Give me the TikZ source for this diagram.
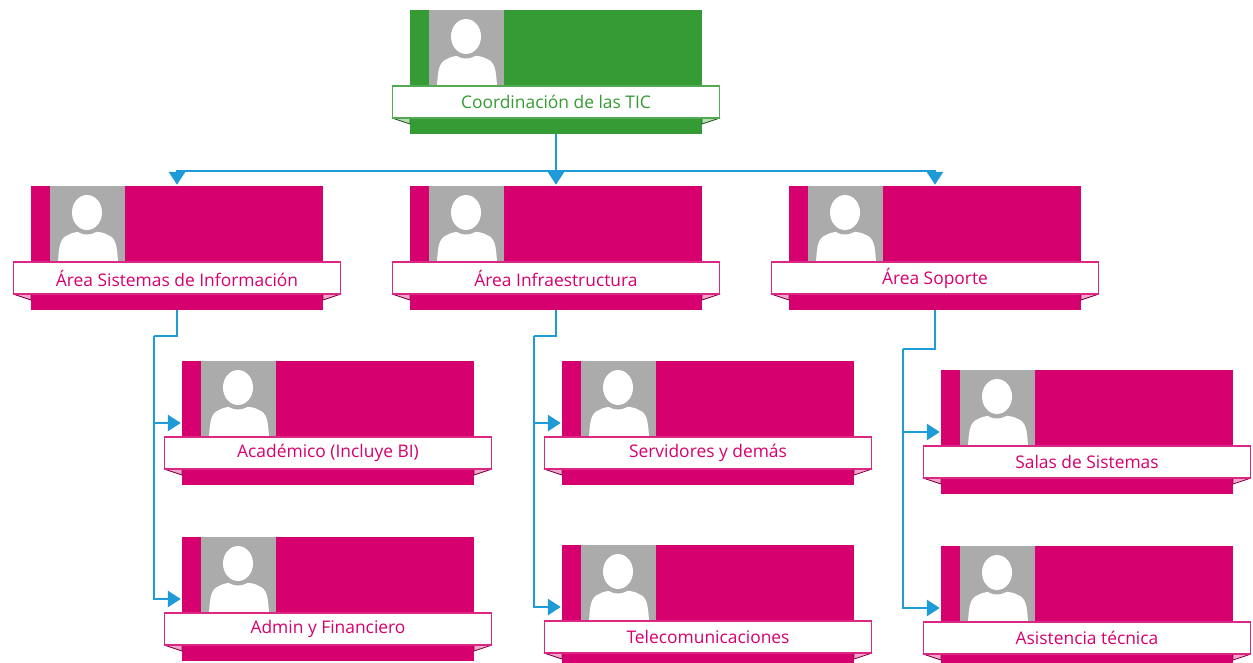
\documentclass[tikz,border=0pt]{standalone}
\usepackage{fontspec}
\setmainfont{Open Sans}
\usetikzlibrary{arrows.meta}
\definecolor{cgreen}{HTML}{359B35}
\definecolor{cpink}{HTML}{D6006E}
\definecolor{cblue}{HTML}{1F9BD8}
\definecolor{cgrey}{HTML}{ABABAB}
\tikzset{
  cardbox/.style={fill=#1,draw=none,inner sep=0pt,minimum width=292pt,minimum height=124pt},
  photobox/.style={fill=cgrey,draw=none},
  bannerbox/.style={fill=white,draw=#1!85!white,line width=1.2pt,inner sep=0pt,minimum width=327pt,minimum height=32pt,text=#1,font=\fontsize{17.4}{20}\selectfont},
  foldmark/.style={fill=#1!35,draw=#1!60!black,line width=0.8pt,line join=round},
  link/.style={draw=cblue,line width=2.8pt},
  linkarrow/.style={link,-{Triangle[length=13pt,width=16pt]},shorten >=1pt},
}
% #1 name, #2 x, #3 y, #4 colour, #5 text
\newcommand{\orgcard}[5]{%
  \node[cardbox=#4] (#1) at (#2+146,#3+62) {};
  \fill[photobox] (#2+19,#3) rectangle (#2+94,#3+76);
  \begin{scope}
    \clip (#2+19,#3) rectangle (#2+94,#3+76);
    \fill[white] (#2+27,#3+76) .. controls (#2+28,#3+60) and (#2+29,#3+52) .. (#2+37,#3+49)
      .. controls (#2+44,#3+44) and (#2+70,#3+44) .. (#2+77,#3+49)
      .. controls (#2+85,#3+52) and (#2+86,#3+60) .. (#2+87,#3+76) -- cycle;
    \fill[cgrey] (#2+56,#3+27) ellipse [x radius=19pt,y radius=21.5pt];
    \fill[white] (#2+56,#3+26.5) ellipse [x radius=15pt,y radius=17.5pt];
  \end{scope}
  \path[foldmark=#4] (#2-18,#3+108) -- (#2,#3+114) -- (#2,#3+108) -- cycle;
  \path[foldmark=#4] (#2+310,#3+108) -- (#2+292,#3+114) -- (#2+292,#3+108) -- cycle;
  \node[bannerbox=#4] (#1b) at (#2+146,#3+92) {#5};
}
\begin{document}
\begin{tikzpicture}[x=1pt,y=-1pt]
\useasboundingbox (0,0) rectangle (1253,663);
\clip (0,0) rectangle (1253,663);
\fill[white] (0,0) rectangle (1253,663);
\orgcard{root}{410}{10}{cgreen}{Coordinación de las TIC}
\orgcard{sis}{31}{186}{cpink}{Área Sistemas de Información}
\orgcard{inf}{410}{186}{cpink}{Área Infraestructura}
\orgcard{sop}{789}{186}{cpink}{Área Soporte}
\orgcard{aca}{182}{361}{cpink}{Académico (Incluye BI)}
\orgcard{adm}{182}{537}{cpink}{Admin y Financiero}
\orgcard{ser}{562}{361}{cpink}{Servidores y demás}
\orgcard{tel}{562}{545}{cpink}{Telecomunicaciones}
\orgcard{sal}{941}{370}{cpink}{Salas de Sistemas}
\orgcard{asi}{941}{546}{cpink}{Asistencia técnica}
% top bus
\coordinate (bus) at (root.south |- 0,171);
\draw[link] (root.south) -- (bus);
\draw[linkarrow] (bus) -| (sis.north);
\draw[linkarrow] (bus) -- (inf.north);
\draw[linkarrow] (bus) -| (sop.north);
% branches
\coordinate (j1) at (154,336);
\draw[link] (sis.south) |- (j1);
\draw[linkarrow] (j1) |- (aca.west);
\draw[linkarrow] (j1) |- (adm.west);
\coordinate (j2) at (534,336);
\draw[link] (inf.south) |- (j2);
\draw[linkarrow] (j2) |- (ser.west);
\draw[linkarrow] (j2) |- (tel.west);
\coordinate (j3) at (903,349);
\draw[link] (sop.south) |- (j3);
\draw[linkarrow] (j3) |- (sal.west);
\draw[linkarrow] (j3) |- (asi.west);
\end{tikzpicture}
\end{document}
